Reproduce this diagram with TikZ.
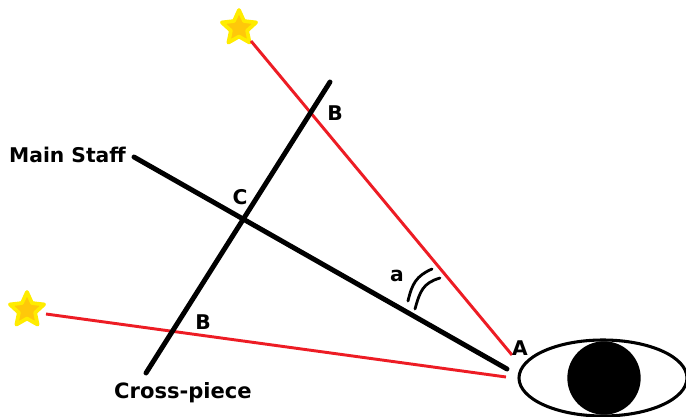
\documentclass[tikz,border=0pt]{standalone}
\usepackage{fontspec}
\setmainfont{DejaVu Sans}
\usetikzlibrary{shapes.geometric}
\definecolor{starfill}{RGB}{255,200,10}
\definecolor{starline}{RGB}{255,236,0}
\definecolor{rayred}{RGB}{237,28,36}
\tikzset{
  starnode/.style={star,star points=5,star point ratio=2.1,minimum size=27pt,inner sep=0pt,fill=starfill,draw=starline,line width=2.8pt,line join=round},
  ray/.style={draw=rayred,line width=2.2pt},
  staff/.style={draw=black,line width=3.7pt,line cap=round},
  tick/.style={draw=black,line width=2.1pt,line cap=round},
  lab/.style={inner sep=0pt,font=\fontsize{15.2pt}{17pt}\selectfont\bfseries,text=black}
}
\begin{document}
\begin{tikzpicture}[x=0.75pt,y=-0.75pt]
\useasboundingbox (0,0) rectangle (686,417);
\fill[white] (0,0) rectangle (686,417);
\coordinate (r1a) at (251,41);
\coordinate (r1b) at (512,355);
\coordinate (r2a) at (46,314);
\coordinate (r2b) at (506,377);
\coordinate (ms1) at (134,157);
\coordinate (ms2) at (507,369);
\coordinate (cp1) at (330,82);
\coordinate (cp2) at (146,373);
\coordinate (o1) at (408,301);
\coordinate (o2) at (432,269);
\coordinate (i1) at (415,309);
\coordinate (i2) at (440,278);
\node[starnode] (s1) at (239,28) {};
\node[starnode] (s2) at (27,310) {};
\draw[ray] (r1a) -- (r1b);
\draw[ray] (r2a) -- (r2b);
\draw[staff] (ms1) -- (ms2);
\draw[staff] (cp1) -- (cp2);
\draw[tick] (o1) .. controls (412,284) and (416,276) .. (o2);
\draw[tick] (i1) .. controls (420,291) and (423,283) .. (i2);
\node[draw=black,line width=2.3pt,ellipse,minimum width=126pt,minimum height=57pt,inner sep=0pt] (eye) at (603,378) {};
\node[circle,fill=black,minimum size=55pt,inner sep=0pt] (pupil) at (604,378) {};
\node[lab] (tms) at (67.5,155) {Main Staff};
\node[lab,font=\fontsize{15.8pt}{17pt}\selectfont\bfseries] (tcp) at (183,393) {Cross-piece};
\node[lab] (tb1) at (335,113) {B};
\node[lab] (tb2) at (203,322) {B};
\node[lab] (tc) at (240,197) {C};
\node[lab] (ta) at (397,276) {a};
\node[lab] (tA) at (520,348) {A};
\end{tikzpicture}
\end{document}
